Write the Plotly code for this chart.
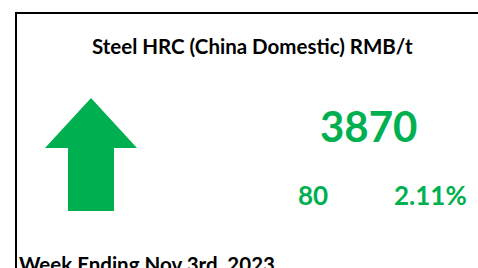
import plotly.graph_objects as go

# ---- data ----
title = "Steel HRC (China Domestic) RMB/t"
price = [3870]
change = [80]
pct_change = [2.11]
week_label = ["Week Ending Nov 3rd, 2023"]

GREEN = "#00B050"
FONT = "Lato"

W, H = 478, 268

fig = go.Figure()

# up arrow (pixel coordinate frame via axes)
tip = (91, 98)
head_y, head_l, head_r = 148, 45, 137
shaft_l, shaft_r, shaft_b = 68, 114, 211
ax = [tip[0], head_r, shaft_r, shaft_r, shaft_l, shaft_l, head_l, tip[0]]
ay = [tip[1], head_y, head_y, shaft_b, shaft_b, head_y, head_y, tip[1]]
fig.add_trace(go.Scatter(x=ax, y=ay, fill="toself", fillcolor=GREEN,
                         mode="lines", line=dict(width=0, color=GREEN),
                         hoverinfo="skip", showlegend=False))

# border lines
fig.add_shape(type="line", x0=16, x1=16, y0=13, y1=H + 5, xref="x", yref="y",
              line=dict(color="black", width=2))
fig.add_shape(type="line", x0=15, x1=W + 5, y0=13, y1=13, xref="x", yref="y",
              line=dict(color="black", width=2))

def txt(x, y, s, size, color, anchor="center"):
    fig.add_annotation(x=x, y=y, text=s, showarrow=False, xref="x", yref="y",
                       xanchor=anchor, yanchor="middle",
                       font=dict(family=FONT, size=size, color=color, weight="bold"))

txt(252.5, 46, title, 20.5, "black")
txt(368, 126, str(price[0]), 42, GREEN)
txt(312.5, 195, str(change[0]), 26, GREEN)
txt(430, 195, f"{pct_change[0]:.2f}%", 26, GREEN)
txt(17, 264, week_label[0], 20.5, "black", anchor="left")

fig.update_layout(
    width=W, height=H, margin=dict(l=0, r=0, t=0, b=0),
    paper_bgcolor="white", plot_bgcolor="white",
    xaxis=dict(range=[0, W], visible=False, fixedrange=True),
    yaxis=dict(range=[H, 0], visible=False, fixedrange=True),
    showlegend=False,
)

fig.write_html("out.html", config={"displayModeBar": False},
               post_script="document.body.style.margin='0';document.body.style.overflow='hidden';")
